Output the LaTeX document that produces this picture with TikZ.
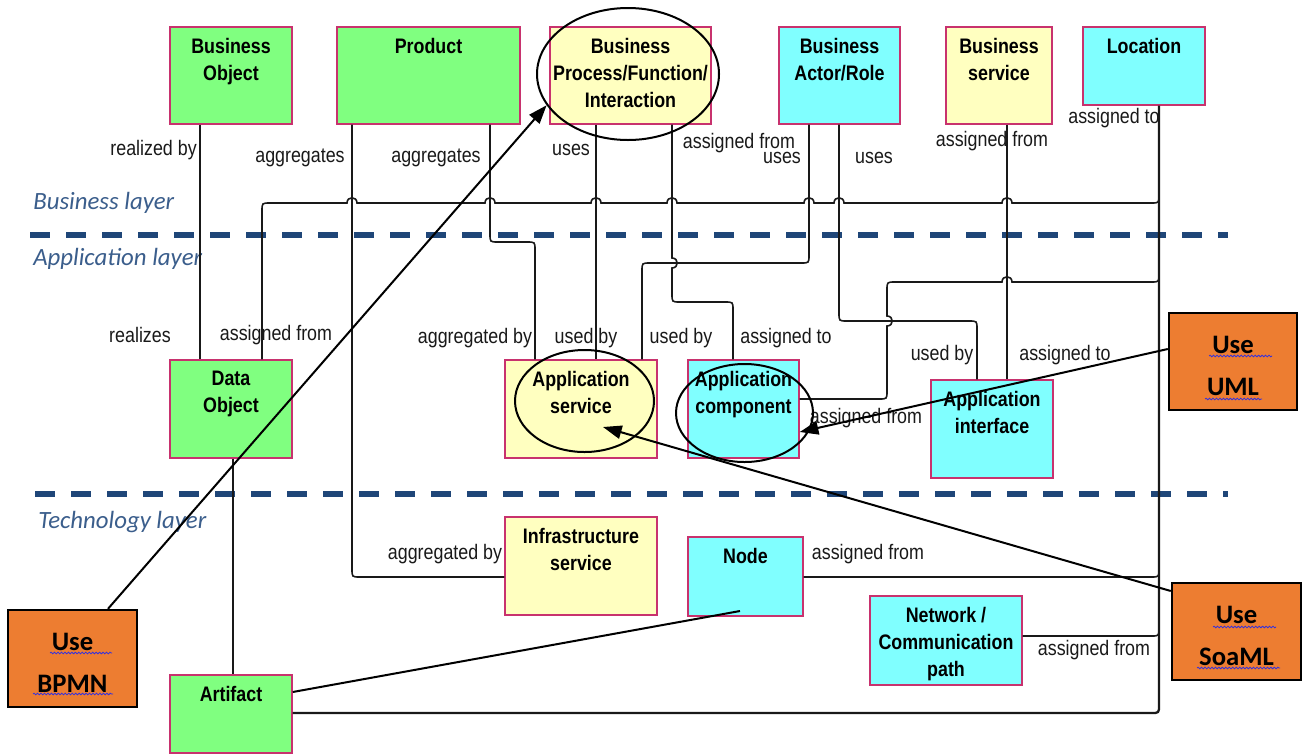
\documentclass[tikz,border=0pt]{standalone}
\usepackage{fontspec}
\setmainfont{Liberation Sans}
\newfontfamily\narrowfont[FakeStretch=0.85]{Liberation Sans}
\newfontfamily\calfont{Carlito}
\usetikzlibrary{shapes.geometric,arrows.meta,decorations.pathmorphing}
\definecolor{boxborder}{HTML}{C8326E}
\definecolor{gfill}{HTML}{80FF80}
\definecolor{yfill}{HTML}{FFFFC0}
\definecolor{cfill}{HTML}{80FFFF}
\definecolor{orangefill}{HTML}{ED7D31}
\definecolor{layerblue}{HTML}{3B5E8C}
\definecolor{dashblue}{HTML}{1F4678}
\definecolor{squigblue}{HTML}{3030E0}
\newcommand\hopr[2]{-- ({#1-5},#2) .. controls ({#1-5},{#2-7}) and ({#1+5},{#2-7}) .. ({#1+5},#2)}
\newcommand\vhopd[2]{-- (#1,{#2-5}) .. controls ({#1+7},{#2-5}) and ({#1+7},{#2+5}) .. (#1,{#2+5})}
\newcommand\vhopu[2]{-- (#1,{#2+5}) .. controls ({#1+7},{#2+5}) and ({#1+7},{#2-5}) .. (#1,{#2-5})}
\begin{document}
\begin{tikzpicture}[x=0.75pt,y=-0.75pt,
  box/.style={draw=boxborder, line width=1.1pt, inner sep=0pt, rectangle},
  btext/.style={font=\narrowfont\bfseries\fontsize{15.75}{20.25}\selectfont, align=center, inner sep=0pt, anchor=north, yshift=-9pt},
  lbl/.style={font=\narrowfont\fontsize{15.75}{18}\selectfont, inner sep=0pt, text=black!90},
  conn/.style={line width=1.2pt, draw=black!90},
  arr/.style={line width=1.5pt, draw=black, -{Triangle[length=14pt,width=10pt]}},
  layer/.style={font=\calfont\itshape\fontsize{18.6}{20}\selectfont, text=layerblue, anchor=west, inner sep=0pt},
  dashline/.style={line width=4.5pt, draw=dashblue, dash pattern=on 15pt off 12pt},
  orangebox/.style={draw=black, line width=1.8pt, fill=orangefill, inner sep=0pt},
  otext/.style={font=\calfont\bfseries\fontsize{20}{31.5}\selectfont, align=center, inner sep=0pt},
  squig/.style={draw=squigblue, line width=0.6pt, decorate, decoration={snake, segment length=2.6pt, amplitude=0.6pt}},
  ell/.style={draw=black, ellipse, line width=1.5pt, inner sep=0pt}]
\useasboundingbox (0,0) rectangle (1303,754);
\fill[white] (0,0) rectangle (1303,754);

% layer separators
\draw[dashline] (30,235) -- (1228,235);
\draw[dashline] (35,494) -- (1228,494);
\node[layer] (lb) at (33,203) {Business layer};
\node[layer] (la) at (33,259) {Application layer};
\node[layer] (lt) at (38,522) {Technology layer};

% boxes
\node[box, fill=gfill, minimum width=122*0.75pt, minimum height=97*0.75pt, label={[btext]north:{Business\\Object}}] (bo) at (231,75.5) {};
\node[box, fill=gfill, minimum width=183*0.75pt, minimum height=97*0.75pt, label={[btext]north:{Product}}] (prod) at (428.5,75.5) {};
\node[box, fill=yfill, minimum width=161*0.75pt, minimum height=97*0.75pt, label={[btext]north:{Business\\Process/Function/\\Interaction}}] (bp) at (630.5,75.5) {};
\node[box, fill=cfill, minimum width=121*0.75pt, minimum height=97*0.75pt, label={[btext]north:{Business\\Actor/Role}}] (ba) at (839.5,75.5) {};
\node[box, fill=yfill, minimum width=106*0.75pt, minimum height=97*0.75pt, label={[btext]north:{Business\\service}}] (bs) at (999,75.5) {};
\node[box, fill=cfill, minimum width=122*0.75pt, minimum height=78*0.75pt, label={[btext]north:{Location}}] (loc) at (1144,66) {};

\node[box, fill=gfill, minimum width=122*0.75pt, minimum height=98*0.75pt, label={[btext]north:{Data\\Object}}] (do) at (231,409) {};
\node[box, fill=yfill, minimum width=152*0.75pt, minimum height=98*0.75pt, label={[btext]north:{Application\\service}}] (as) at (581,409) {};
\node[box, fill=cfill, minimum width=111*0.75pt, minimum height=98*0.75pt, label={[btext]north:{Application\\component}}] (ac) at (743.5,409) {};
\node[box, fill=cfill, minimum width=122*0.75pt, minimum height=98*0.75pt, label={[btext]north:{Application\\interface}}] (ai) at (992,429) {};

\node[box, fill=yfill, minimum width=152*0.75pt, minimum height=98*0.75pt, label={[btext]north:{Infrastructure\\service}}] (inf) at (581,566) {};
\node[box, fill=cfill, minimum width=115*0.75pt, minimum height=79*0.75pt, label={[btext]north:{Node}}] (nd) at (745.5,576.5) {};
\node[box, fill=cfill, minimum width=152*0.75pt, minimum height=89*0.75pt, label={[btext]north:{Network /\\Communication\\path}}] (net) at (946,640.5) {};
\node[box, fill=gfill, minimum width=122*0.75pt, minimum height=78*0.75pt, label={[btext]north:{Artifact}}] (art) at (231,714) {};

% orange boxes
\node[orangebox, minimum width=128*0.75pt, minimum height=97*0.75pt, label={[otext, yshift=-3pt]center:{Use\\UML}}] (uml) at (1233,361.5) {};
\node[orangebox, minimum width=129*0.75pt, minimum height=97*0.75pt, label={[otext, yshift=-3pt]center:{Use\\SoaML}}] (soa) at (1236.5,631.5) {};
\node[orangebox, minimum width=129*0.75pt, minimum height=97*0.75pt, label={[otext, yshift=-3pt]center:{Use\\BPMN}}] (bpmn) at (72.5,658.5) {};
\draw[squig] (50,653) -- (112,653);
\draw[squig] (33,694) -- (113,694);
\draw[squig] (1209,356) -- (1272,356);
\draw[squig] (1205,399) -- (1262,399);
\draw[squig] (1213,627) -- (1276,627);
\draw[squig] (1197,668) -- (1280,668);

% connectors
\draw[conn] (bo.south -| 200,0) -- (do.north -| 200,0);
\draw[conn] (do.north -| 262,0) -- (262,211) .. controls (262,203) .. (270,203)
  \hopr{352}{203} \hopr{490}{203} \hopr{596}{203} \hopr{672}{203} \hopr{809}{203} \hopr{839}{203} \hopr{1007}{203}
  -- (1151,203) .. controls (1159,203) .. (1159,195);
\draw[conn] (prod.south -| 352,0) -- (352,569) .. controls (352,577) .. (360,577) -- (inf.west |- 0,577);
\draw[conn] (prod.south -| 490,0) -- (490,234) .. controls (490,242) .. (498,242) -- (527,242) .. controls (535,242) .. (535,250) -- (as.north -| 535,0);
\draw[conn] (bp.south -| 596,0) -- (as.north -| 596,0);
\draw[conn] (bp.south -| 672,0) \vhopd{672}{263} -- (672,294) .. controls (672,302) .. (680,302) -- (725,302) .. controls (733,302) .. (733,310) -- (ac.north -| 733,0);
\draw[conn] (ba.south -| 809,0) -- (809,255) .. controls (809,263) .. (801,263) -- (650,263) .. controls (642,263) .. (642,271) -- (as.north -| 642,0);
\draw[conn] (ba.south -| 839,0) -- (839,313) .. controls (839,321) .. (847,321) -- (969,321) .. controls (977,321) .. (977,329) -- (ai.north -| 977,0);
\draw[conn] (bs.south -| 1007,0) -- (ai.north -| 1007,0);
\draw[conn] (ac.east |- 0,399) -- (879,399) .. controls (887,399) .. (887,391) \vhopu{887}{321} -- (887,290) .. controls (887,282) .. (895,282) \hopr{1007}{282} -- (1151,282) .. controls (1159,282) .. (1159,274);
\draw[conn] (nd.east |- 0,577) -- (1151,577) .. controls (1159,577) .. (1159,569);
\draw[conn] (net.east |- 0,636) -- (1151,636) .. controls (1159,636) .. (1159,628);
\draw[conn, line width=1.7pt] (art.east |- 0,713) -- (1151,713) .. controls (1159,713) .. (1159,705) -- (loc.south -| 1159,0);
\draw[conn] (do.south -| 233,0) -- (art.north -| 233,0);

% labels
\node[lbl, anchor=east] (l1) at (197,150) {realized by};
\node[lbl] (l2) at (300,158) {aggregates};
\node[lbl] (l3) at (436,158) {aggregates};
\node[lbl] (l4) at (571,150) {uses};
\node[lbl] (l5) at (739,143) {assigned from};
\node[lbl] (l6) at (782,158) {uses};
\node[lbl] (l7) at (874,158) {uses};
\node[lbl] (l8) at (992,141) {assigned from};
\node[lbl] (l9) at (1114,118) {assigned to};
\node[lbl] (l10) at (140,335) {realizes};
\node[lbl] (l11) at (276,335) {assigned from};
\node[lbl] (l12) at (475,338) {aggregated by};
\node[lbl] (l13) at (586,338) {used by};
\node[lbl] (l14) at (681,338) {used by};
\node[lbl] (l15) at (786,338) {assigned to};
\node[lbl] (l16) at (942,355) {used by};
\node[lbl] (l17) at (1065,355) {assigned to};
\node[lbl] (l18) at (866,418) {assigned from};
\node[lbl] (l19) at (445,554) {aggregated by};
\node[lbl] (l20) at (868,554) {assigned from};
\node[lbl] (l21) at (1094,650) {assigned from};

% highlight ellipses
\node[ell, minimum width=182*0.75pt, minimum height=132*0.75pt] (bpe) at (628,74) {};
\node[ell, minimum width=139*0.75pt, minimum height=102*0.75pt] (ase) at (584.5,401) {};
\node[ell, minimum width=137*0.75pt, minimum height=98*0.75pt] (ace) at (744.5,413) {};

% annotation arrows
\coordinate (soatip) at (603,427);
\coordinate (nodetip) at (740,611);
\draw[arr] (bpmn.north -| 108,0) -- (bpe.201);
\draw[arr] (uml.west |- 0,349) -- (ac.east |- 0,432);
\draw[arr] (soa.west |- 0,591) -- (soatip);
\draw[line width=1.5pt] (art.east |- 0,692) -- (nodetip);
\end{tikzpicture}
\end{document}
